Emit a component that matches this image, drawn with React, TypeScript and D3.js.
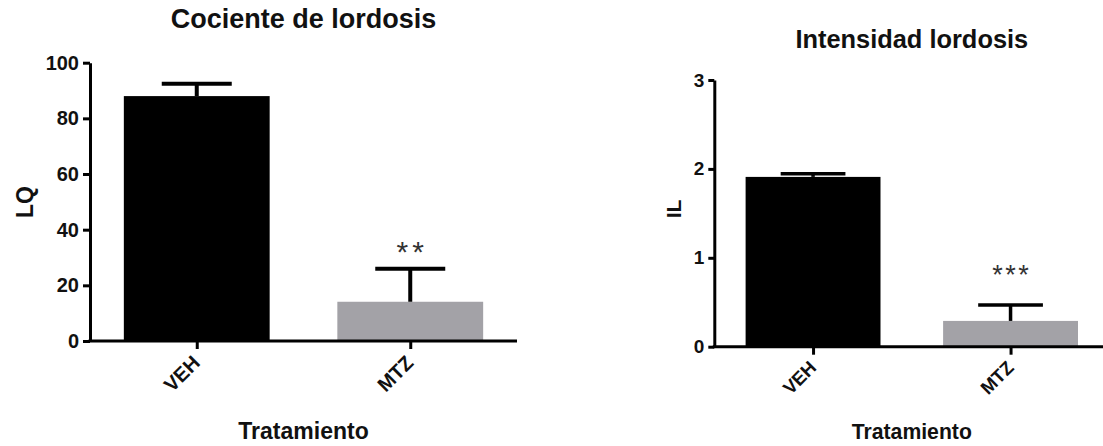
import React, { useEffect, useRef } from 'react';
import * as d3 from 'd3';

const categories = ['VEH', 'MTZ'];
const lqMeans = [88, 14.1];
const lqErrors = [4.4, 11.9];
const lqTicks = [0, 20, 40, 60, 80, 100];
const ilMeans = [1.91, 0.29];
const ilErrors = [0.035, 0.18];
const ilTicks = [0, 1, 2, 3];
const stars = ['', '**'];
const ilStars = ['', '***'];
const barColors = ['#000000', '#a3a2a7'];

const FONT = '"Liberation Sans", Arial, sans-serif';

const drawPanel = (svg, cfg) => {
  const x = d3.scalePoint()
    .domain(categories)
    .range([cfg.left, cfg.right])
    .padding(0.5);
  const y = d3.scaleLinear()
    .domain([0, cfg.max])
    .range([cfg.bottom, cfg.top]);
  const barW = x.step() * 0.683;
  const capW = barW * 0.48;

  const g = svg.append('g');

  g.selectAll('rect.bar')
    .data(cfg.means)
    .enter()
    .append('rect')
    .attr('x', (d, i) => x(categories[i]) - barW / 2)
    .attr('y', d => y(d))
    .attr('width', barW)
    .attr('height', d => y(0) - y(d))
    .attr('fill', (d, i) => barColors[i]);

  // error bars, upper side only
  cfg.means.forEach((m, i) => {
    const cx = x(categories[i]);
    const top = y(m + cfg.errors[i]);
    g.append('line')
      .attr('x1', cx).attr('x2', cx)
      .attr('y1', y(m)).attr('y2', top)
      .attr('stroke', '#000').attr('stroke-width', cfg.ebWidth);
    g.append('line')
      .attr('x1', cx - capW / 2).attr('x2', cx + capW / 2)
      .attr('y1', top).attr('y2', top)
      .attr('stroke', '#000').attr('stroke-width', cfg.ebWidth);
    if (cfg.stars[i]) {
      g.append('text')
        .attr('x', cx + cfg.starSpacing / 2)
        .attr('y', cfg.starY)
        .attr('text-anchor', 'middle')
        .style('font-family', FONT)
        .style('font-size', `${cfg.starSize}px`)
        .style('letter-spacing', `${cfg.starSpacing}px`)
        .attr('fill', '#333')
        .text(cfg.stars[i]);
    }
  });

  const yAxis = g.append('g')
    .attr('transform', `translate(${cfg.left},0)`)
    .call(d3.axisLeft(y)
      .tickValues(cfg.ticks)
      .tickFormat(d3.format('d'))
      .tickSize(cfg.tickLen)
      .tickSizeOuter(0)
      .tickPadding(4));
  yAxis.select('.domain').attr('stroke-width', 3);
  yAxis.selectAll('.tick line').attr('stroke-width', 3);
  yAxis.selectAll('.tick text')
    .style('font-family', FONT)
    .style('font-weight', 'bold')
    .style('font-size', `${cfg.tickFont}px`)
    .attr('fill', '#111');

  const xAxis = g.append('g')
    .attr('transform', `translate(0,${cfg.bottom})`)
    .call(d3.axisBottom(x).tickSize(8).tickSizeOuter(0).tickPadding(0));
  xAxis.select('.domain').attr('stroke-width', 3).attr('d', `M${cfg.left - 1.5},0H${cfg.right}`);
  xAxis.selectAll('.tick line').attr('stroke-width', 3);
  xAxis.selectAll('.tick text')
    .attr('text-anchor', 'end')
    .attr('dy', null)
    .attr('y', 0)
    .attr('transform', `translate(4,${cfg.catDy}) rotate(-45)`)
    .style('font-family', FONT)
    .style('font-weight', 'bold')
    .style('font-size', `${cfg.catFont}px`)
    .attr('fill', '#111');

  const mid = (cfg.left + cfg.right) / 2;
  g.append('text')
    .attr('x', mid)
    .attr('y', cfg.titleY)
    .attr('text-anchor', 'middle')
    .style('font-family', FONT)
    .style('font-weight', 'bold')
    .style('font-size', `${cfg.titleFont}px`)
    .attr('fill', '#111')
    .text(cfg.title);

  g.append('text')
    .attr('x', mid)
    .attr('y', 439)
    .attr('text-anchor', 'middle')
    .style('font-family', FONT)
    .style('font-weight', 'bold')
    .style('font-size', `${cfg.xLabelFont}px`)
    .attr('fill', '#111')
    .text('Tratamiento');

  g.append('text')
    .attr('transform', `translate(${cfg.yLabelX},${cfg.yLabelY}) rotate(-90)`)
    .attr('text-anchor', 'middle')
    .style('font-family', FONT)
    .style('font-weight', 'bold')
    .style('font-size', `${cfg.yLabelFont}px`)
    .attr('fill', '#111')
    .text(cfg.yLabel);
};

const App = () => {
  const svgRef = useRef(null);

  useEffect(() => {
    const svg = d3.select(svgRef.current);
    svg.selectAll('*').remove();

    drawPanel(svg, {
      left: 90, right: 517, top: 62.7, bottom: 341, max: 100,
      means: lqMeans, errors: lqErrors, ticks: lqTicks, stars,
      tickLen: 7, tickFont: 20, catFont: 20, catDy: 23,
      ebWidth: 4, starSize: 30, starSpacing: 4, starY: 262,
      title: 'Cociente de lordosis', titleY: 28, titleFont: 27,
      xLabelFont: 23, yLabel: 'LQ', yLabelX: 33, yLabelY: 202, yLabelFont: 23,
    });

    drawPanel(svg, {
      left: 714.3, right: 1109.3, top: 80, bottom: 346.7, max: 3,
      means: ilMeans, errors: ilErrors, ticks: ilTicks, stars: ilStars,
      tickLen: 6, tickFont: 19, catFont: 18.5, catDy: 22,
      ebWidth: 3.5, starSize: 27, starSpacing: 2.5, starY: 284,
      title: 'Intensidad lordosis', titleY: 48, titleFont: 25.4,
      xLabelFont: 21.2, yLabel: 'IL', yLabelX: 681, yLabelY: 209, yLabelFont: 21,
    });
  }, []);

  return (
    <svg
      ref={svgRef}
      width={1103}
      height={446}
      style={{ position: 'absolute', left: 0, top: 0, background: '#fff' }}
    />
  );
};

export default App;
